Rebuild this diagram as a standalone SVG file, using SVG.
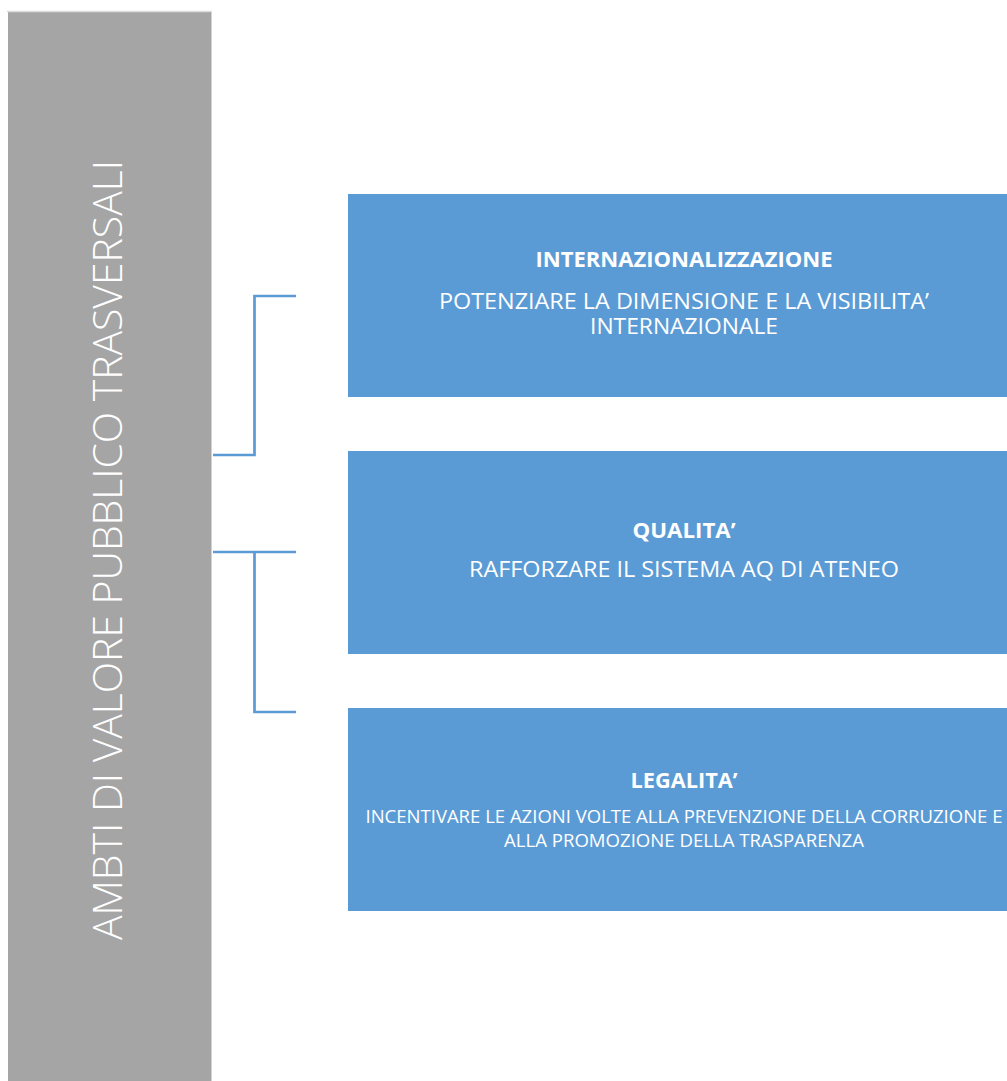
<svg xmlns="http://www.w3.org/2000/svg" width="1007" height="1081" viewBox="0 0 1007 1081">
<style>
.box{fill:#5b9bd5}
.t{font-family:"Open Sans","Liberation Sans",sans-serif;fill:#ffffff;text-anchor:middle}
.b{font-weight:bold;font-size:20.5px}
.s{font-size:21px}
.xs{font-size:17.5px}
.conn{fill:none;stroke:#5b9bd5;stroke-width:2.7}
</style>
<rect x="0" y="0" width="1007" height="1081" fill="#ffffff"/>
<g id="side">
<rect x="8" y="12" width="203.5" height="1069" fill="#a5a5a5"/>
<line x1="7" y1="11.5" x2="212" y2="11.5" stroke="#dcdcdc" stroke-width="1.5"/>
<text class="t" transform="translate(122,550) rotate(-90)" font-size="40" font-weight="300" textLength="780" lengthAdjust="spacingAndGlyphs">AMBTI DI VALORE PUBBLICO TRASVERSALI</text>
</g>
<g id="connectors">
<path class="conn" d="M213,455 H254.5 V296 H296"/>
<path class="conn" d="M213,552 H296 M254.5,552 V712 H296"/>
</g>
<g id="node1">
<rect class="box" x="348" y="194" width="672" height="203"/>
<text class="t b" x="684" y="267" textLength="297" lengthAdjust="spacingAndGlyphs">INTERNAZIONALIZZAZIONE</text>
<text class="t s" x="684" y="308.5" textLength="490" lengthAdjust="spacingAndGlyphs">POTENZIARE LA DIMENSIONE E LA VISIBILITA’</text>
<text class="t s" x="684" y="334" textLength="188" lengthAdjust="spacingAndGlyphs">INTERNAZIONALE</text>
</g>
<g id="node2">
<rect class="box" x="348" y="451" width="672" height="203"/>
<text class="t b" x="684" y="538" textLength="103" lengthAdjust="spacingAndGlyphs">QUALITA’</text>
<text class="t s" x="684" y="577" textLength="430" lengthAdjust="spacingAndGlyphs">RAFFORZARE IL SISTEMA AQ DI ATENEO</text>
</g>
<g id="node3">
<rect class="box" x="348" y="708" width="672" height="203"/>
<text class="t b" x="684" y="787.5" textLength="107" lengthAdjust="spacingAndGlyphs">LEGALITA’</text>
<text class="t xs" x="684" y="823" textLength="637" lengthAdjust="spacingAndGlyphs">INCENTIVARE LE AZIONI VOLTE ALLA PREVENZIONE DELLA CORRUZIONE E</text>
<text class="t xs" x="684" y="846.5" textLength="360" lengthAdjust="spacingAndGlyphs">ALLA PROMOZIONE DELLA TRASPARENZA</text>
</g>
</svg>
